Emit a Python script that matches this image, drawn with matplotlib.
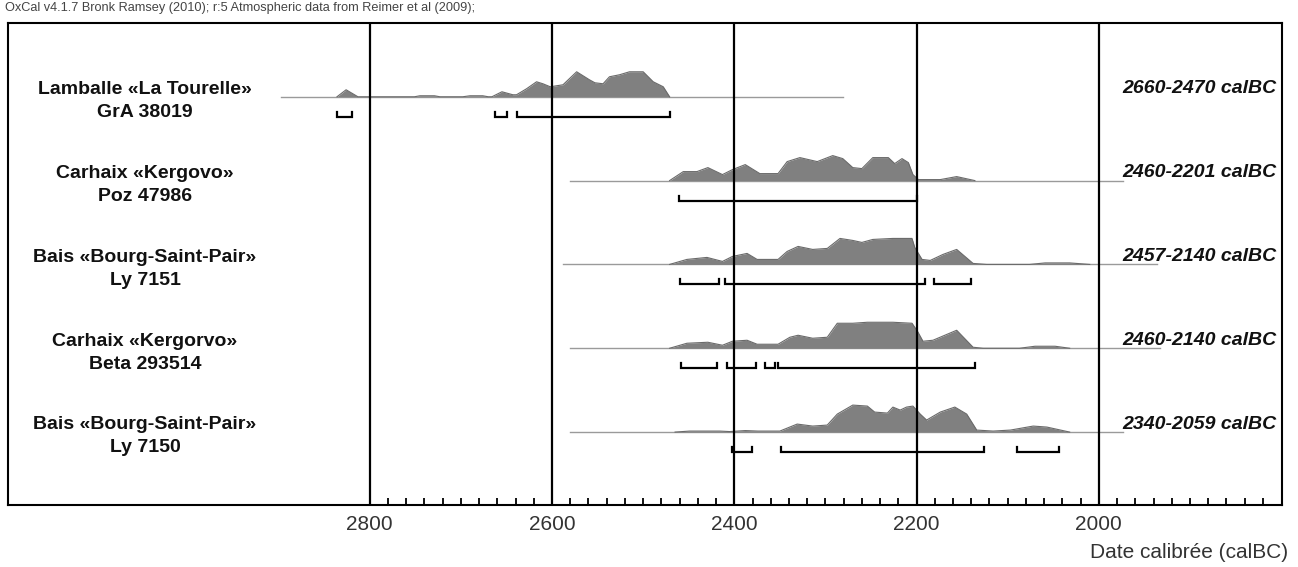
import matplotlib
matplotlib.use('Agg')
import matplotlib.pyplot as plt
import matplotlib.transforms as mtransforms

plt.rcParams['font.family'] = ['Liberation Sans', 'DejaVu Sans']

# échantillons
sites = ['Lamballe «La Tourelle»', 'Carhaix «Kergovo»', 'Bais «Bourg-Saint-Pair»',
         'Carhaix «Kergorvo»', 'Bais «Bourg-Saint-Pair»']
codes = ['GrA 38019', 'Poz 47986', 'Ly 7151', 'Beta 293514', 'Ly 7150']
ranges = ['2660-2470 calBC', '2460-2201 calBC', '2457-2140 calBC',
          '2460-2140 calBC', '2340-2059 calBC']

# étendue de la ligne de base (calBC)
spans = [(2897, 2281), (2580, 1973), (2588, 1936), (2580, 1933), (2580, 1973)]

# distributions de probabilité (année calBC, densité relative)
dist_years = [
    [2836, 2826, 2813, 2751, 2745, 2729, 2723, 2698, 2690, 2676, 2670, 2666, 2655,
     2643, 2639, 2628, 2617, 2610, 2602, 2588, 2573, 2559, 2553, 2544, 2537, 2526,
     2515, 2500, 2489, 2478, 2471],
    [2471, 2456, 2441, 2429, 2413, 2402, 2388, 2372, 2352, 2342, 2328, 2309, 2292,
     2281, 2270, 2260, 2248, 2231, 2224, 2216, 2209, 2204, 2198, 2174, 2156, 2136],
    [2471, 2452, 2430, 2413, 2402, 2386, 2375, 2352, 2342, 2330, 2314, 2298, 2284,
     2270, 2260, 2248, 2226, 2205, 2202, 2194, 2185, 2171, 2156, 2147, 2138, 2123,
     2076, 2059, 2032, 2010],
    [2471, 2452, 2429, 2413, 2402, 2386, 2375, 2352, 2339, 2330, 2314, 2298, 2287,
     2270, 2254, 2226, 2205, 2199, 2193, 2182, 2156, 2138, 2127, 2087, 2070, 2048,
     2032],
    [2465, 2449, 2416, 2405, 2388, 2374, 2350, 2331, 2314, 2298, 2287, 2270, 2254,
     2246, 2232, 2226, 2218, 2211, 2204, 2196, 2189, 2174, 2158, 2145, 2134, 2116,
     2097, 2072, 2057, 2032],
]
dist_probs = [
    [0, 7, 0, 0, 1, 1, 0, 0, 1, 1, 0, 0, 5, 2, 2, 8, 15, 13, 10, 12, 25, 17, 14, 13,
     20, 22, 25, 25, 15, 10, 0],
    [0, 9, 9, 13, 6, 11, 16, 7, 7, 19, 23, 19, 25, 22, 13, 12, 23, 23, 17, 22, 18, 6,
     1, 1, 4, 0],
    [0, 5, 7, 3, 8, 11, 5, 5, 13, 18, 15, 16, 26, 24, 22, 25, 26, 26, 17, 5, 4, 10,
     15, 8, 1, 0, 0, 1.5, 1.5, 0],
    [0, 5, 6, 3, 7, 8, 4, 4, 11, 13, 10, 11, 25, 25, 26, 26, 25, 17, 7, 8, 18, 1, 0,
     0, 2, 2, 0],
    [0, 1, 1, 0.5, 1.5, 1, 1, 8, 6, 7, 18, 27, 26, 20, 19, 25, 22, 25, 26, 18, 12, 20,
     25, 18, 2, 1, 2, 6, 5, 0],
]

# intervalles 95.4 %
intervals = [
    [(2836, 2819), (2663, 2649), (2638, 2471)],
    [(2461, 2200)],
    [(2460, 2417), (2410, 2191), (2181, 2140)],
    [(2458, 2419), (2408, 2376), (2366, 2355), (2352, 2136)],
    [(2402, 2381), (2349, 2126), (2090, 2044)],
]

major_years = [2800, 2600, 2400, 2200, 2000]
minor_years = list(range(2800, 1819, -20))

fig = plt.figure(figsize=(12.98, 5.67), dpi=100)
ax = fig.add_axes([8 / 1298, 1 - 505 / 567, 1274 / 1298, 482 / 567])

row_h = 0.31 / 26
for k in range(5):
    y0 = -k
    ax.plot(spans[k], [y0, y0], color='#9a9a9a', lw=1.0, zorder=1)
    top = [y0 + p * row_h for p in dist_probs[k]]
    ax.fill_between(dist_years[k], y0, top, color='#808080', lw=0, zorder=2)
    ax.plot(dist_years[k], top, color='#6a6a6a', lw=0.8, zorder=2)
    yb = y0 - 0.238
    for a, b in intervals[k]:
        ax.plot([a, a, b, b], [yb + 0.06, yb, yb, yb + 0.06], color='black', lw=1.6,
                solid_joinstyle='miter', zorder=3)

    trans = mtransforms.blended_transform_factory(ax.transAxes, ax.transData)
    ax.text(0.1075, y0 + 0.085, sites[k], transform=trans, ha='center', va='center',
            fontsize=14, fontweight='bold', color='#111111')
    ax.text(0.1075, y0 - 0.19, codes[k], transform=trans, ha='center', va='center',
            fontsize=14, fontweight='bold', color='#111111')
    ax.text(0.996, y0 + 0.095, ranges[k], transform=trans, ha='right', va='center',
            fontsize=14, fontweight='bold', style='italic', color='#111111')

for yr in major_years:
    ax.axvline(yr, color='black', lw=1.6, zorder=4)

ax.set_xlim(3197, 1799)
ax.set_ylim(-4.87, 0.88)
ax.set_yticks([])
ax.set_xticks(major_years)
ax.set_xticks(minor_years, minor=True)
ax.tick_params(axis='x', which='major', length=0, pad=7, labelsize=15, labelcolor='#333333')
ax.tick_params(axis='x', which='minor', direction='in', length=5, width=1.3, color='black')
for s in ax.spines.values():
    s.set_linewidth(1.5)
    s.set_color('black')

fig.text(5 / 1298, 1 - 8 / 567,
         'OxCal v4.1.7 Bronk Ramsey (2010); r:5 Atmospheric data from Reimer et al (2009);',
         ha='left', va='center', fontsize=9.2, color='#444444')
fig.text(1288 / 1298, 1 - 553 / 567, 'Date calibrée (calBC)', ha='right', va='center',
         fontsize=15, color='#333333')

fig.savefig('out.png', dpi=100)
